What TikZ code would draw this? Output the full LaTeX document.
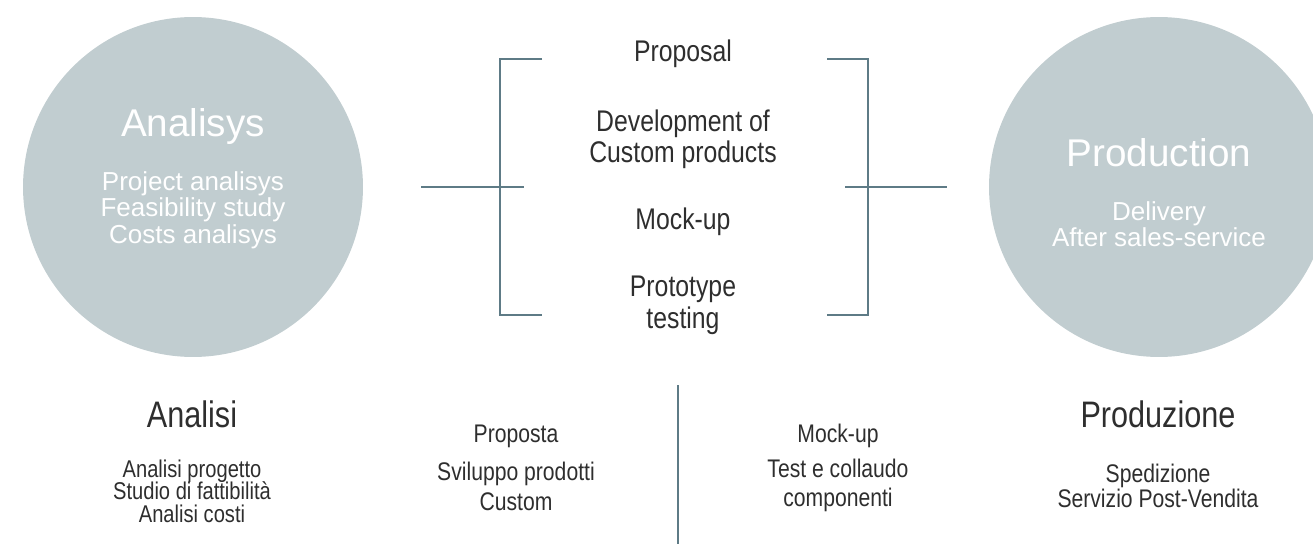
\documentclass[tikz,border=0pt]{standalone}
\usepackage{fontspec}
\setmainfont{Liberation Sans}
\newfontfamily\condfont{Liberation Sans}[FakeStretch=0.83]
\usepackage{tikz}

\definecolor{circfill}{HTML}{C1CDD0}
\definecolor{rulecol}{HTML}{5E7B86}
\definecolor{inkgrey}{HTML}{2E2E2E}

\lineskiplimit=-20pt

\begin{document}
\begin{tikzpicture}[
    x=0.02cm, y=-0.02cm,
    phase/.style={
        circle, fill=circfill,
        minimum size=6.8cm, inner sep=0pt
    },
    intitle/.style={text=white, anchor=base, inner sep=0pt,
        font=\fontsize{22}{26}\selectfont},
    inlist/.style={text=white, anchor=base, inner sep=0pt, align=center,
        font=\fontsize{14.8}{14.8}\selectfont},
    stage/.style={text=inkgrey, anchor=base, inner sep=0pt, align=center,
        font=\condfont\fontsize{17}{18.2}\selectfont},
    bigtag/.style={text=inkgrey, anchor=base, inner sep=0pt,
        font=\condfont\fontsize{21}{24}\selectfont},
    smalltag/.style={text=inkgrey, anchor=base, inner sep=0pt, align=center,
        font=\condfont\fontsize{14.5}{#1}\selectfont},
    listtag/.style={text=inkgrey, anchor=base, inner sep=0pt, align=center,
        font=\condfont\fontsize{13.8}{12.8}\selectfont},
    link/.style={draw=rulecol, line width=1.15pt}
]

\clip (0,0) rectangle (1313,544);

\node[phase] (ana) at (193,187) {};
\node[phase] (prod) at (1159,187) {};

\node[intitle] (anatit) at (193,137) {Analisys};
\node[inlist] (analist) at (193,243) {Project analisys\\Feasibility study\\Costs analisys};
\node[intitle] (prodtit) at (1159,167) {Production};
\node[inlist] (prodlist) at (1159,247) {Delivery\\After sales-service};

\node[stage] (prop) at (683,62) {Proposal};
\node[stage] (dev) at (683,163) {Development of\\Custom products};
\node[stage] (mock) at (683,230) {Mock-up};
\node[stage] (proto) at (683,328) {Prototype\\testing};

\coordinate (lbt) at (542,59);
\coordinate (lbb) at (542,315);
\coordinate (lxa) at (421,187);
\coordinate (lxb) at (524,187);
\coordinate (rbt) at (827,59);
\coordinate (rbb) at (827,315);
\coordinate (rxa) at (845,187);
\coordinate (rxb) at (947,187);

\draw[link] (lbt) -- ++(-42,0) |- (lbb);
\draw[link] (rbt) -- ++(41,0) |- (rbb);
\draw[link] (lxa) -- (lxb);
\draw[link] (rxa) -- (rxb);

\node[bigtag] (anait) at (192,427) {Analisi};
\node[listtag] (anaitlist) at (192,522) {Analisi progetto\\Studio di fattibilità\\Analisi costi};
\node[smalltag=17pt] (propit) at (516,442) {Proposta};
\node[smalltag=17pt] (devit) at (516,510) {Sviluppo prodotti\\Custom};
\node[smalltag=16pt] (mockit) at (838,442) {Mock-up};
\node[smalltag=16pt] (testit) at (838,506) {Test e collaudo\\componenti};
\node[bigtag] (prodit) at (1158,427) {Produzione};
\node[smalltag=14.2pt] (proditlist) at (1158,507) {Spedizione\\Servizio Post-Vendita};

\coordinate (divtop) at (678,385);
\coordinate (divbot) at (678,544);
\draw[link] (divtop) -- (divbot);

\end{tikzpicture}
\end{document}
